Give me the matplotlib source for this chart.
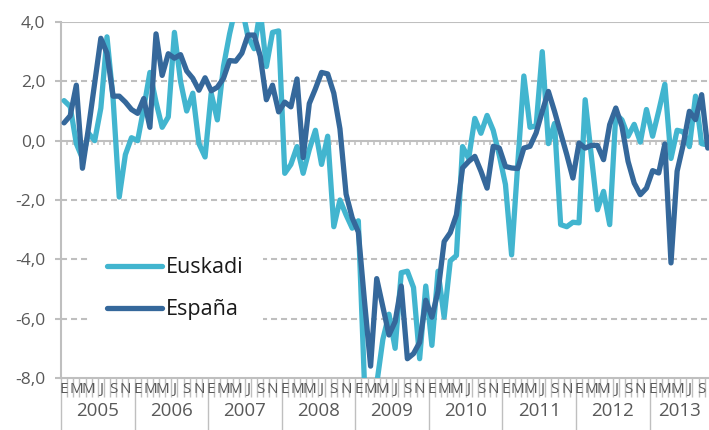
import matplotlib
matplotlib.use("Agg")
import matplotlib.pyplot as plt
import matplotlib.transforms as mtransforms
import numpy as np
from matplotlib.ticker import FuncFormatter

plt.rcParams["font.family"] = ["Open Sans", "DejaVu Sans"]

# --- data: monthly rate, Jan 2005 .. Oct 2013 --------------------------------
YEARS = [2005, 2006, 2007, 2008, 2009, 2010, 2011, 2012, 2013]
MONTH_LETTERS = ["E", "M", "M", "J", "S", "N"]
LETTER_MONTHS = [0, 2, 4, 6, 8, 10]

euskadi = [
    1.35, 1.15, -0.1, -0.6, 0.25, 0.0, 1.1, 3.5, 1.4, -1.9,
    -0.47, 0.1, 0.0, 1.1, 2.3, 1.3, 0.45, 0.8, 3.65, 2.0,
    1.0, 1.6, -0.1, -0.55, 1.6, 0.7, 2.5, 3.6, 4.5, 4.5,
    3.5, 3.1, 4.4, 2.5, 3.65, 3.7, -1.1, -0.8, -0.2, -1.1,
    -0.3, 0.35, -0.8, 0.15, -2.9, -2.0, -2.5, -2.95, -2.7, -8.2,
    -8.5, -8.2, -6.7, -5.85, -7.0, -4.45, -4.4, -4.95, -7.35, -4.9,
    -6.9, -4.4, -5.95, -4.05, -3.87, -0.2, -0.6, 0.75, 0.25, 0.85,
    0.35, -0.5, -1.48, -3.85, -0.8, 2.18, 0.45, 0.5, 3.0, -0.1,
    0.58, -2.83, -2.9, -2.75, -2.77, 1.38, -0.5, -2.33, -1.71, -2.83,
    0.9, 0.7, 0.15, 0.55, -0.05, 1.05, 0.15, 1.0, 1.9, -0.6,
    0.35, 0.3, -0.2, 1.5, -0.1, -0.15,
]
espana = [
    0.6, 0.84, 1.87, -0.93, 0.45, 1.95, 3.45, 2.95, 1.5, 1.5,
    1.3, 1.05, 0.92, 1.42, 0.45, 3.6, 2.2, 2.93, 2.78, 2.9,
    2.35, 2.1, 1.7, 2.12, 1.68, 1.8, 2.1, 2.7, 2.68, 2.95,
    3.56, 3.56, 2.85, 1.38, 1.87, 0.97, 1.3, 1.14, 2.08, -0.57,
    1.25, 1.75, 2.3, 2.25, 1.6, 0.4, -1.8, -2.6, -3.08, -5.4,
    -7.6, -4.65, -5.6, -6.55, -6.1, -4.9, -7.35, -7.18, -6.8, -5.38,
    -5.95, -5.08, -3.4, -3.1, -2.5, -0.92, -0.7, -0.53, -1.03, -1.6,
    -0.19, -0.25, -0.87, -0.92, -0.94, -0.25, -0.19, 0.26, 0.99, 1.66,
    0.99, 0.26, -0.47, -1.26, -0.08, -0.25, -0.16, -0.16, -0.64, 0.54,
    1.1, 0.48, -0.7, -1.43, -1.82, -1.6, -1.01, -1.09, -0.11, -4.12,
    -1.03, -0.13, 0.99, 0.71, 1.55, -0.25,
]

LIGHT = "#42b5cf"
DARK = "#35689b"
GRID = "#bfbfbf"
LABEL = "#595959"

fig = plt.figure(figsize=(7.09, 4.30), dpi=100)
ax = fig.add_axes([61 / 709, 1 - 378 / 430, 648 / 709, 356 / 430])

n = len(euskadi)
x = np.arange(n)
xmax = 105.2
ax.plot(x, euskadi, color=LIGHT, lw=3.8, solid_joinstyle="round",
        solid_capstyle="round", label="Euskadi", zorder=3)
ax.plot(x, espana, color=DARK, lw=3.8, solid_joinstyle="round",
        solid_capstyle="round", label="España", zorder=4)

ax.set_xlim(-0.5, xmax)
ax.set_ylim(-8, 4)

# gridlines: solid at 4 and 0, dashed elsewhere
yticks = np.arange(-8, 4.1, 2)
for v in yticks[1:]:
    if v in (0, 4):
        ax.axhline(v, color=GRID, lw=1.5, zorder=1)
    else:
        ax.axhline(v, color=GRID, lw=1.5, ls=(0, (2.9, 1.9)), zorder=1)
# small month ticks hanging under the zero line
ax.vlines(np.arange(-0.5, xmax, 1), -0.14, 0, color=GRID, lw=1.1, zorder=1)

for side in ("top", "right"):
    ax.spines[side].set_visible(False)
for side in ("left", "bottom"):
    ax.spines[side].set_color(GRID)
    ax.spines[side].set_linewidth(1.5)

ax.set_yticks(yticks)
ax.yaxis.set_major_formatter(FuncFormatter(lambda v, _: f"{v:.1f}".replace(".", ",")))
ax.tick_params(axis="y", length=4.3, width=1.5, color=GRID, pad=7,
               labelcolor=LABEL, labelsize=12.5)

ax.set_xticks([12 * k - 0.5 for k in range(len(YEARS))])
ax.set_xticks(np.arange(-0.5, xmax, 1), minor=True)
ax.set_xticklabels([])
ax.tick_params(axis="x", which="major", length=38, width=1, color=GRID)
ax.tick_params(axis="x", which="minor", length=13.7, width=1, color=GRID)

trans = mtransforms.blended_transform_factory(ax.transData, ax.transAxes)
for k, year in enumerate(YEARS):
    start = 12 * k
    for off, letter in zip(LETTER_MONTHS, MONTH_LETTERS):
        if start + off <= n - 1:
            ax.text(start + off, -0.0337, letter, transform=trans, ha="center",
                    va="center", fontsize=11, color=LABEL, clip_on=False)
    mid = (start - 0.5 + min(start + 11.5, xmax)) / 2
    ax.text(mid, -0.0927, str(year), transform=trans, ha="center", va="center",
            fontsize=13.5, color=LABEL, clip_on=False)

leg = ax.legend(loc="center left", bbox_to_anchor=(0.0417, 0.251), frameon=True,
                fontsize=15.5, handlelength=2.55, handletextpad=0.15,
                borderpad=0.9, labelspacing=0.98, borderaxespad=0, fancybox=False)
leg.get_frame().set_facecolor("white")
leg.get_frame().set_edgecolor("none")
leg.get_frame().set_alpha(1)
for t in leg.get_texts():
    t.set_color("#1a1a1a")

fig.savefig("out.png", dpi=100)
